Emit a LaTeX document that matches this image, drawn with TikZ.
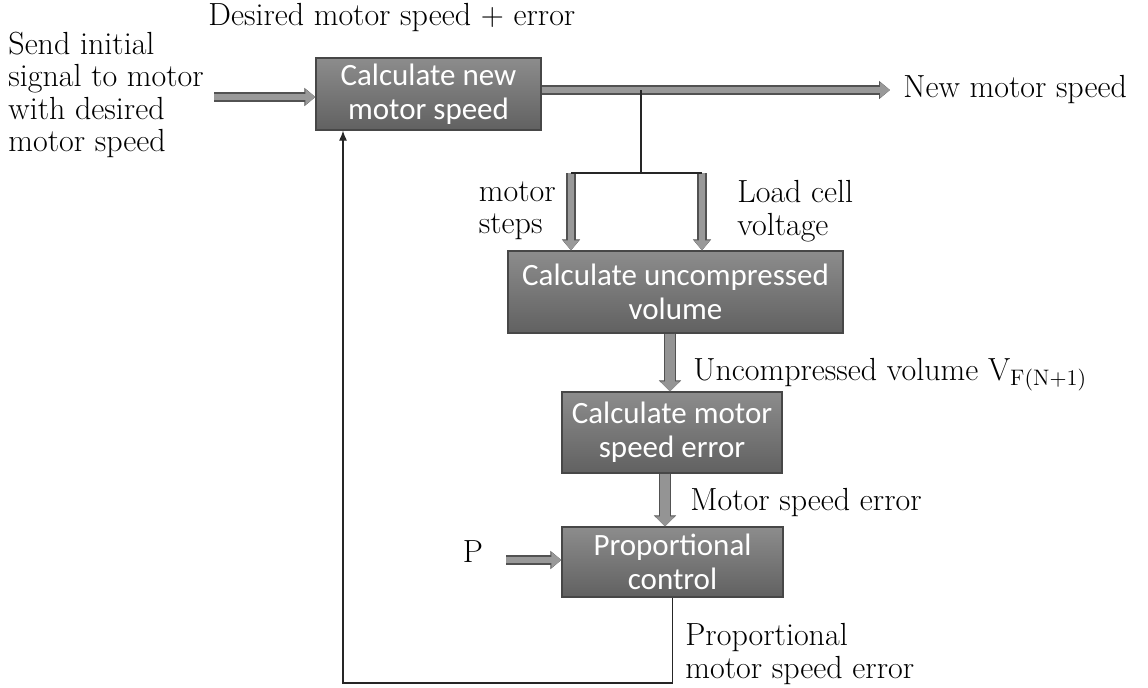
\documentclass[tikz,border=0pt]{standalone}
\usepackage{fontspec}
\newfontfamily\boxfont{Carlito}
\usetikzlibrary{arrows.meta}
\begin{document}
\begin{tikzpicture}[x=0.5pt,y=-0.5pt,
  lbl/.style={font=\fontsize{16}{16.2}\selectfont, inner sep=0pt, text=black},
  blk/.style={draw=black!72, line width=0.6pt, top color=black!45, bottom color=black!62,
    text=white, align=center, inner sep=0pt,
    font=\boxfont\fontsize{15.5}{17}\selectfont},
  fat/.style={draw=black!40, line width=3.4pt, -{Triangle[length=5pt,width=7.5pt]},
    preaction={draw=black!68, line width=4.6pt, -{Triangle[length=5.5pt,width=8.8pt]}}},
  fatw/.style={draw=black!42, line width=5pt, -{Triangle[length=5pt,width=9.5pt]},
    preaction={draw=black!68, line width=6.2pt, -{Triangle[length=5.5pt,width=10.8pt]}}},
  thinl/.style={draw=black!85, line width=0.6pt},
  fb/.style={thinl, -{Latex[length=5pt,width=4pt]}}
]
\useasboundingbox (0,0) rectangle (1148,687);

% boxes
\node[blk, minimum width=112.5pt, minimum height=36pt] (b1) at (428.5,94) {Calculate new\\motor speed};
\node[blk, minimum width=167.5pt, minimum height=41pt] (b2) at (675.5,292) {Calculate uncompressed\\volume};
\node[blk, minimum width=110pt, minimum height=40.5pt] (b3) at (672,432.5) {Calculate motor\\speed error};
\node[blk, minimum width=110.5pt, minimum height=35pt] (b4) at (672.5,562) {Proportional\\control};

% labels
\node[lbl, anchor=west] (tdes) at (208,18) {Desired motor speed + error};
\node[lbl, anchor=west, align=left] (tsend) at (8,95) {Send initial\\signal to motor\\with desired\\motor speed};
\node[lbl, anchor=west] (tnew) at (903,90) {New motor speed};
\node[lbl, anchor=east, align=left] (tsteps) at (556,211) {motor\\steps};
\node[lbl, anchor=west, align=left] (tload) at (737,211) {Load cell\\voltage};
\node[lbl, anchor=west] (tunc) at (693,375) {Uncompressed volume V$_{\mathrm{F(N+1)}}$};
\node[lbl, anchor=west] (terr) at (690,503) {Motor speed error};
\node[lbl, anchor=west, align=left] (tprop) at (685,654) {Proportional\\motor speed error};
\node[lbl] (tp) at (473,552) {P};

% coordinates
\coordinate (in1) at (214,97);
\coordinate (out) at (890,90);
\coordinate (sp) at (641,90);
\coordinate (spb) at (641,173);
\coordinate (sl) at (571,173);
\coordinate (sr) at (702,173);
\coordinate (a23) at (670,0);
\coordinate (a34) at (665,0);
\coordinate (pin) at (506,560);
\coordinate (lb) at (343,683);

% connectors
\draw[fat] (in1) -- (b1.west |- in1);
\draw[fat] (b1.east |- out) -- (out);
\draw[thinl] (sp) -- (spb);
\draw[fat] (sl) -- (sl |- b2.north);
\draw[fat] (sr) -- (sr |- b2.north);
\draw[thinl] (sl) -- (sr);
\draw[fatw] (b2.south -| a23) -- (b3.north -| a23);
\draw[fatw] (b3.south -| a34) -- (b4.north -| a34);
\draw[fat] (pin) -- (b4.west |- pin);
\draw[fb] (b4.south) |- (lb) -- (lb |- b1.south);
\end{tikzpicture}
\end{document}
